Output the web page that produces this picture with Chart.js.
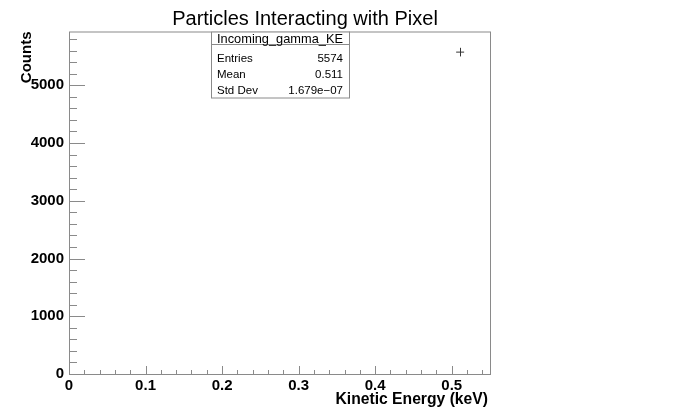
<!DOCTYPE html>
<html lang="en">
<head>
    <meta charset="UTF-8">
    <title>Particles Interacting with Pixel</title>
    <script src="https://cdn.jsdelivr.net/npm/chart.js@4.4.1/dist/chart.umd.min.js"></script>
    <style>
        * {
            margin: 0;
            padding: 0;
        }

        body {
            background: #fff;
        }

        #box {
            position: relative;
            width: 690px;
            height: 415px;
        }
    </style>
</head>
<body>
    <div id="box">
        <canvas id="chartCanvas"></canvas>
    </div>
<script>
    // histogram content (one filled bin) and its labels
    const energies = [0.511]
    const counts = [5574]
    const countErrors = [74.7]
    const xTicks = [0, 0.1, 0.2, 0.3, 0.4, 0.5]
    const yTicks = [0, 1000, 2000, 3000, 4000, 5000]
    const statsTitle = "Incoming_gamma_KE"
    const statsNames = ["Entries", "Mean", "Std Dev"]
    const statsValues = ["5574", "0.511", "1.679e\u221207"]

    const chartTitle = "Particles Interacting with Pixel"
    const xTitle = "Kinetic Energy (keV)"
    const yTitle = "Counts"

    const font = "'Liberation Sans', Arial, sans-serif"
    const frameColor = "#8a8a8a"

    // ROOT style: ticks point into the frame, frame is closed
    const rootFrame = {
        id: "rootFrame",
        afterDraw(chart) {
            const ctx = chart.ctx
            const a = chart.chartArea
            const xs = chart.scales.x
            const ys = chart.scales.y
            ctx.save()
            ctx.strokeStyle = frameColor
            ctx.lineWidth = 1
            ctx.strokeRect(a.left + 0.5, a.top + 0.5, a.right - a.left, a.bottom - a.top)

            ctx.beginPath()
            for (let i = 0; i * 200 <= ys.max; i++) {
                const y = Math.round(ys.getPixelForValue(i * 200)) + 0.5
                const len = i % 5 === 0 ? 16 : 8
                ctx.moveTo(a.left, y)
                ctx.lineTo(a.left + len, y)
            }
            for (let i = 0; i * 0.02 <= xs.max + 1e-9; i++) {
                const x = Math.round(xs.getPixelForValue(i * 0.02)) + 0.5
                const len = i % 5 === 0 ? 8 : 4
                ctx.moveTo(x, a.bottom)
                ctx.lineTo(x, a.bottom - len)
            }
            ctx.stroke()

            // titles
            ctx.fillStyle = "#000"
            ctx.font = "20px " + font
            ctx.textAlign = "center"
            ctx.textBaseline = "alphabetic"
            ctx.fillText(chartTitle, 305, 25)

            ctx.font = "bold 15.7px " + font
            ctx.textAlign = "right"
            ctx.fillText(xTitle, 488, 404)

            ctx.save()
            ctx.font = "bold 15px " + font
            ctx.translate(31, a.top)
            ctx.rotate(-Math.PI / 2)
            ctx.textAlign = "right"
            ctx.fillText(yTitle, 0, 0)
            ctx.restore()

            // statistics box
            const bx = 211, by = a.top, bw = 138, bh = 66
            ctx.fillStyle = "#fff"
            ctx.fillRect(bx, by, bw, bh)
            ctx.strokeStyle = frameColor
            ctx.strokeRect(bx + 0.5, by + 0.5, bw, bh)
            ctx.beginPath()
            ctx.moveTo(bx, by + 13)
            ctx.lineTo(bx + bw, by + 13)
            ctx.stroke()

            ctx.fillStyle = "#000"
            ctx.font = "12.8px " + font
            ctx.textAlign = "center"
            ctx.fillText(statsTitle, bx + bw / 2, by + 11)
            ctx.font = "11.5px " + font
            for (let i = 0; i < statsNames.length; i++) {
                const y = by + 30 + i * 16
                ctx.textAlign = "left"
                ctx.fillText(statsNames[i], bx + 6, y)
                ctx.textAlign = "right"
                ctx.fillText(statsValues[i], bx + bw - 6, y)
            }
            ctx.restore()
        }
    }

    // vertical error bar around each point, drawn through the y scale
    const errorBars = {
        id: "errorBars",
        afterDatasetsDraw(chart) {
            const ctx = chart.ctx
            const xs = chart.scales.x
            const ys = chart.scales.y
            ctx.save()
            ctx.strokeStyle = "#333"
            ctx.lineWidth = 1
            ctx.beginPath()
            for (let i = 0; i < energies.length; i++) {
                const x = Math.round(xs.getPixelForValue(energies[i])) + 0.5
                ctx.moveTo(x, ys.getPixelForValue(counts[i] - countErrors[i]))
                ctx.lineTo(x, ys.getPixelForValue(counts[i] + countErrors[i]))
            }
            ctx.stroke()
            ctx.restore()
        }
    }

    const points = energies.map((e, i) => ({ x: e, y: counts[i] }))

    const config = {
        type: "scatter",
        data: {
            datasets: [
                {
                    label: statsTitle,
                    data: points,
                    pointStyle: "line",
                    pointRadius: 4,
                    borderColor: "#333",
                    backgroundColor: "#333",
                    borderWidth: 1,
                }
            ]
        },
        options: {
            responsive: true,
            maintainAspectRatio: false,
            animation: false,
            layout: {
                padding: { top: 31.5, right: 200, left: 0, bottom: 0 }
            },
            plugins: {
                legend: { display: false },
                tooltip: { enabled: false },
            },
            scales: {
                x: {
                    type: "linear",
                    min: 0,
                    max: 0.55,
                    afterFit(scale) { scale.height = 41 },
                    afterBuildTicks(scale) { scale.ticks = xTicks.map(v => ({ value: v })) },
                    grid: { drawOnChartArea: false, drawTicks: false },
                    border: { display: false },
                    ticks: {
                        maxRotation: 0,
                        autoSkip: false,
                        padding: 3,
                        color: "#000",
                        font: { family: font, size: 15, weight: "bold" },
                        callback: (v) => v === 0 ? "0" : v.toFixed(1),
                    },
                },
                y: {
                    min: 0,
                    max: 5931,
                    afterFit(scale) { scale.width = 69 },
                    afterBuildTicks(scale) { scale.ticks = yTicks.map(v => ({ value: v })) },
                    grid: { drawOnChartArea: false, drawTicks: false },
                    border: { display: false },
                    ticks: {
                        autoSkip: false,
                        padding: 5,
                        color: "#000",
                        font: { family: font, size: 15, weight: "bold" },
                        callback: (v) => String(v),
                    },
                },
            },
        },
        plugins: [errorBars, rootFrame],
    }

    new Chart(document.getElementById("chartCanvas"), config)
</script>
</body>
</html>
